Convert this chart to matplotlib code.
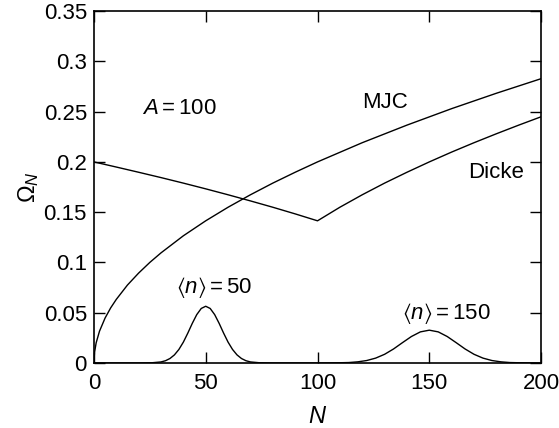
import matplotlib
matplotlib.use('Agg')
import matplotlib.pyplot as plt

plt.rcParams['font.family'] = ['Liberation Sans', 'DejaVu Sans']
plt.rcParams['mathtext.fontset'] = 'custom'
plt.rcParams['mathtext.rm'] = 'Liberation Sans'
plt.rcParams['mathtext.it'] = 'Liberation Sans:italic'
plt.rcParams['mathtext.fallback'] = 'stixsans'

# MJC curve
N_mjc = [0, 0.25, 1, 2.5, 5, 7.5, 10, 15, 20, 25, 30, 40, 50, 60, 70, 80, 90, 100,
         120, 140, 160, 180, 200]
om_mjc = [0, 0.010, 0.020, 0.0316, 0.0447, 0.0548, 0.0632, 0.0775, 0.0894, 0.100,
          0.1095, 0.1265, 0.1414, 0.1549, 0.1673, 0.1789, 0.1897, 0.200,
          0.2191, 0.2366, 0.2530, 0.2683, 0.2828]

# Dicke curve
N_dicke = [0, 10, 20, 30, 40, 50, 60, 70, 80, 90, 100,
           110, 120, 130, 140, 150, 160, 170, 180, 190, 200]
om_dicke = [0.200, 0.1949, 0.1897, 0.1844, 0.1789, 0.1732, 0.1673, 0.1612, 0.1549, 0.1483, 0.1414,
            0.1549, 0.1673, 0.1789, 0.1897, 0.200, 0.2098, 0.2191, 0.2280, 0.2366, 0.2449]

# photon-number distributions, <n>=50 and <n>=150
N_dist = [0, 20, 26, 30, 32, 34, 36, 38, 40, 42, 44, 46, 48, 50, 52, 54, 56, 58, 60,
          62, 64, 66, 68, 70, 74, 80, 100, 106, 110, 114, 118, 122, 126, 130, 134, 138,
          142, 146, 150, 154, 158, 162, 166, 170, 174, 178, 182, 186, 190, 200]
p_dist = [0, 0, 0.0002, 0.0010, 0.0022, 0.0044, 0.0080, 0.0134, 0.0207, 0.0297, 0.0394,
          0.0481, 0.0542, 0.0564, 0.0542, 0.0481, 0.0394, 0.0297, 0.0207,
          0.0134, 0.0080, 0.0044, 0.0022, 0.0010, 0.0002, 0, 0, 0.0001, 0.0002, 0.0004,
          0.0011, 0.0024, 0.0048, 0.0086, 0.0139, 0.0202, 0.0263, 0.0309, 0.0326,
          0.0309, 0.0263, 0.0202, 0.0139, 0.0086, 0.0048, 0.0024, 0.0011, 0.0004, 0.0002, 0]

fig = plt.figure(figsize=(5.59, 4.28), dpi=100)
ax = fig.add_axes([0.168, 0.152, 0.8, 0.822])

ax.plot(N_mjc, om_mjc, color='black', lw=1.0)
ax.plot(N_dicke, om_dicke, color='black', lw=1.0)
ax.plot(N_dist, p_dist, color='black', lw=1.0)

ax.set_xlim(0, 200)
ax.set_ylim(0, 0.35)
ax.set_xticks([0, 50, 100, 150, 200])
ax.set_yticks([0, 0.05, 0.1, 0.15, 0.2, 0.25, 0.3, 0.35])
ax.set_yticklabels(['0', '0.05', '0.1', '0.15', '0.2', '0.25', '0.3', '0.35'])
ax.tick_params(direction='in', length=8, width=1, top=True, right=True,
               labelsize=16)
ax.tick_params(axis='x', pad=7)
ax.tick_params(axis='y', pad=5)
for s in ax.spines.values():
    s.set_linewidth(1.2)

ax.set_xlabel('$N$', fontsize=17, labelpad=9)
ax.set_ylabel(r'$\Omega_N$', fontsize=17, labelpad=2)

ax.text(21.5, 0.253, '$A = 100$', fontsize=16, ha='left', va='center')
ax.text(130, 0.2595, 'MJC', fontsize=16, ha='center', va='center')
ax.text(180, 0.189, 'Dicke', fontsize=16, ha='center', va='center')
ax.text(54, 0.0746, r'$\langle n\rangle = 50$', fontsize=16, ha='center', va='center')
ax.text(157.5, 0.0487, r'$\langle n\rangle = 150$', fontsize=16, ha='center', va='center')

fig.savefig('out.png', dpi=100)
